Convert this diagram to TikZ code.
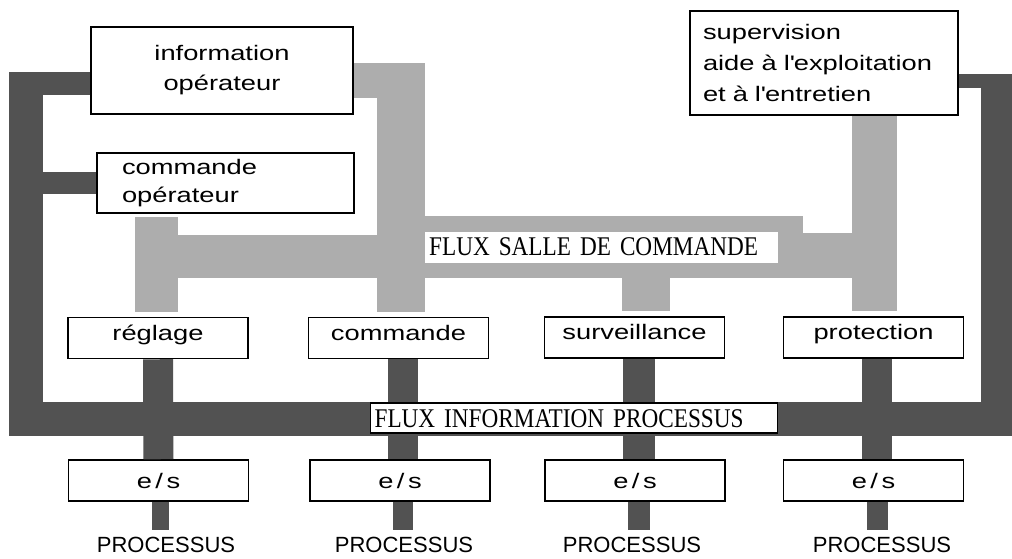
\documentclass[tikz,border=0pt]{standalone}
\usepackage{fontspec}
\setmainfont{Liberation Sans}
\newfontfamily\boxfont[FakeStretch=1.3]{Liberation Sans}
\newfontfamily\fluxfont[FakeStretch=0.86, WordSpace=0.55]{Liberation Serif}

\definecolor{busdark}{gray}{0.32}
\definecolor{sallegray}{gray}{0.68}

\begin{document}
\begin{tikzpicture}[
    x=1pt, y=-1pt,
    box/.style={draw, line width=1.5pt, fill=white, inner sep=0pt,
                font=\boxfont\fontsize{21}{30}\selectfont},
    fctbox/.style={box, minimum width=180pt, minimum height=41pt,
                   text height=12pt, text depth=8pt},
    esbox/.style={box, minimum width=180pt, minimum height=41pt,
                  text height=15pt, text depth=0pt},
    bus/.style={draw=busdark, line width=#1},
    salle/.style={draw=sallegray, line width=#1},
    flux/.style={fill=white, anchor=west, inner xsep=4pt, inner ysep=0pt,
                 text height=18pt, font=\fluxfont\fontsize{27}{27}\selectfont},
    proc/.style={anchor=base, inner sep=0pt, font=\fontsize{22}{24}\selectfont}
  ]

  \fill[white] (0,0) rectangle (1012,558);
  \useasboundingbox (0,0) rectangle (1012,558);

  % Operator boxes
  \node[box, minimum width=262pt, minimum height=87pt, align=center] (info)
    at (222,70.5) {information\\opérateur};
  \node[box, minimum width=257pt, minimum height=60pt, align=left,
        text width=207pt, inner xsep=25pt,
        font=\boxfont\fontsize{21}{28}\selectfont] (cmdop)
    at (225.5,183) {commande\\opérateur};
  \node[box, minimum width=268pt, minimum height=104pt, align=left,
        text width=242pt, inner xsep=13pt,
        font=\boxfont\fontsize{21}{31}\selectfont] (superv)
    at (824,63) {supervision\\aide à l\textquotesingle exploitation\\et à l\textquotesingle entretien};

  % Function boxes
  \node[fctbox] (reg)  at (158,338)     {réglage};
  \node[fctbox] (cmd)  at (398.5,338)   {commande};
  \node[fctbox] (surv) at (634.5,337.5) {surveillance};
  \node[fctbox] (prot) at (873.5,337.5) {protection};

  % e/s boxes
  \node[esbox] (es1) at (158.5,480.5) {e\,/\,s};
  \node[esbox] (es2) at (400,480.5)   {e\,/\,s};
  \node[esbox] (es3) at (635,480.5)   {e\,/\,s};
  \node[esbox] (es4) at (873.5,480.5) {e\,/\,s};

  % Processes
  \node[proc] (proc1) at (166,552) {PROCESSUS};
  \node[proc] (proc2) at (404,552) {PROCESSUS};
  \node[proc] (proc3) at (632,552) {PROCESSUS};
  \node[proc] (proc4) at (882,552) {PROCESSUS};

  % Flux salle de commande
  \coordinate (sreg)  at (156.5,217);
  \coordinate (scmd)  at (401,63);
  \coordinate (ssurv) at (646,262);
  \coordinate (sprot) at (874.5,0);
  \coordinate (sleft) at (156.5,256.5);
  \coordinate (smid)  at (401,256.5);
  \coordinate (sband) at (401,247);
  \coordinate (send)  at (803,247);
  \coordinate (sstep) at (803,255.5);
  \draw[salle=43pt] (sreg) -- ([yshift=5pt]reg.north -| sreg);
  \draw[salle=48pt] (scmd) -- ([yshift=5pt]cmd.north -| scmd);
  \draw[salle=35pt] ([yshift=-10pt]info.east) -- ++(30,0);
  \draw[salle=43pt] (sleft) -- (smid);
  \draw[salle=62pt] (sband) -- (send);
  \draw[salle=45pt] (sstep) -- (sstep -| sprot);
  \draw[salle=48pt] (ssurv) -- ([yshift=5pt]surv.north -| ssurv);
  \draw[salle=45pt] (superv.south -| sprot) -- ([yshift=5pt]prot.north -| sprot);

  % Flux information processus
  \draw[bus=30pt] (reg.south) -- (es1.north);
  \draw[bus=30pt] ([xshift=4pt]cmd.south) -- ([xshift=4pt]cmd.south |- es2.north);
  \draw[bus=32pt] ([xshift=4pt]surv.south) -- ([xshift=4pt]surv.south |- es3.north);
  \draw[bus=30pt] ([xshift=3.5pt]prot.south) -- ([xshift=3.5pt]prot.south |- es4.north);
  \draw[bus=17pt, shorten >=6pt] ([xshift=1.5pt]es1.south) -- ([xshift=1.5pt]es1.south |- proc1.north);
  \draw[bus=20pt, shorten >=6pt] ([xshift=3pt]es2.south) -- ([xshift=3pt]es2.south |- proc2.north);
  \draw[bus=22pt, shorten >=6pt] ([xshift=3.5pt]es3.south) -- ([xshift=3.5pt]es3.south |- proc3.north);
  \draw[bus=21pt, shorten >=6pt] ([xshift=4pt]es4.south) -- ([xshift=4pt]es4.south |- proc4.north);

  \coordinate (lbtop) at (26,72);
  \coordinate (lbbot) at (26,418.5);
  \coordinate (rbbot) at (997.5,418.5);
  \coordinate (rbtop) at (997.5,74);
  \draw[bus=34pt, line join=miter] (lbtop) -- (lbbot) -- (rbbot) -- (rbtop);
  \draw[bus=23pt] ([yshift=-13pt]info.west) -- ([yshift=-13pt]info.west -| lbtop);
  \draw[bus=22pt] (cmdop.west) -- (cmdop.west -| lbtop);
  \draw[bus=14pt] ([yshift=-18pt]superv.east) -- ([yshift=-18pt]superv.east -| rbtop);

  % Labels
  \node[flux, minimum width=353pt, minimum height=31pt, text width=345pt,
        text depth=3pt] (lblsalle) at (425,247.5) {FLUX SALLE DE COMMANDE};
  \node[flux, draw, line width=1.2pt, minimum height=30pt, text width=399pt,
        text depth=0pt] (lblproc) at (370,418) {FLUX INFORMATION PROCESSUS};

\end{tikzpicture}
\end{document}
